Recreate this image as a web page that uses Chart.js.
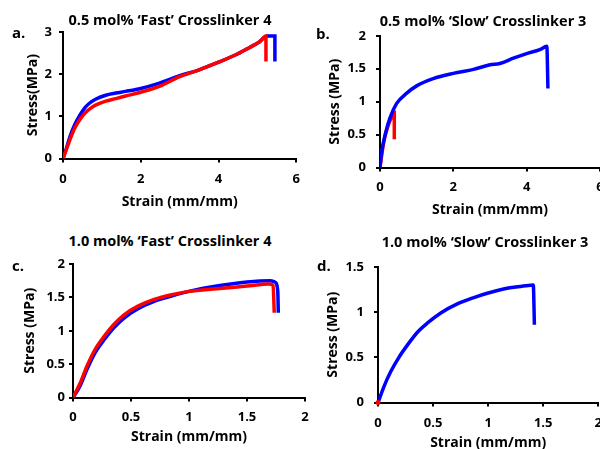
<!DOCTYPE html>
<html lang="en">
<head>
<meta charset="UTF-8">
<title>Stress-strain curves</title>
<script src="https://cdn.jsdelivr.net/npm/chart.js"></script>
<style>
  body { margin: 0; width: 600px; height: 449px; overflow: hidden; background: #fff; position: relative; font-family: 'Open Sans', sans-serif; font-weight: bold; }
  canvas { position: absolute; }
  .txt { position: absolute; white-space: nowrap; transform: translate(-50%, -50%); font-size: 14.5px; color: #000; z-index: 2; }
  .letra { position: absolute; font-size: 15px; color: #000; transform: translateY(-50%); z-index: 2; }
</style>
</head>
<body>

<div class="txt" style="left:170px; top:19px">0.5 mol% ‘Fast’ Crosslinker 4</div>
<div class="txt" style="left:483px; top:20px">0.5 mol% ‘Slow’ Crosslinker 3</div>
<div class="txt" style="left:170px; top:240px">1.0 mol% ‘Fast’ Crosslinker 4</div>
<div class="txt" style="left:485px; top:241px">1.0 mol% ‘Slow’ Crosslinker 3</div>

<div class="letra" style="left:12px; top:32px">a.</div>
<div class="letra" style="left:316px; top:33px">b.</div>
<div class="letra" style="left:12px; top:265px">c.</div>
<div class="letra" style="left:317px; top:265px">d.</div>

<canvas id="chart_a"></canvas>
<canvas id="chart_b"></canvas>
<canvas id="chart_c"></canvas>
<canvas id="chart_d"></canvas>

</body>
</html>

<script>

// a. 0.5 mol% fast crosslinker 4
var strain_a_azul = [0, 0.08, 0.18, 0.3, 0.43, 0.56, 0.68, 0.85, 1.1, 1.36, 1.61, 2.0, 2.46, 3.0, 3.5, 4.0, 4.5, 4.8, 5.05, 5.25, 5.45, 5.45]
var stress_a_azul = [0, 0.22, 0.52, 0.8, 1.02, 1.2, 1.31, 1.41, 1.5, 1.55, 1.59, 1.66, 1.78, 1.96, 2.1, 2.28, 2.48, 2.63, 2.76, 2.9, 2.9, 2.3]
var strain_a_verm = [0, 0.08, 0.18, 0.3, 0.43, 0.56, 0.68, 0.85, 1.1, 1.36, 1.61, 2.0, 2.46, 3.0, 3.5, 4.0, 4.5, 4.8, 5.05, 5.22, 5.22]
var stress_a_verm = [0, 0.2, 0.45, 0.72, 0.92, 1.07, 1.17, 1.27, 1.36, 1.42, 1.48, 1.57, 1.7, 1.94, 2.1, 2.28, 2.48, 2.63, 2.76, 2.9, 2.3]

// b. 0.5 mol% slow crosslinker 3
var strain_b_azul = [0, 0.02, 0.05, 0.14, 0.27, 0.45, 0.73, 1.0, 1.45, 2.0, 2.55, 3.0, 3.27, 3.64, 4.0, 4.36, 4.55, 4.58]
var stress_b_azul = [0, 0.12, 0.25, 0.5, 0.75, 0.97, 1.13, 1.24, 1.35, 1.43, 1.49, 1.56, 1.58, 1.66, 1.73, 1.79, 1.84, 1.2]
var strain_b_verm = [0, 0.1, 0.2, 0.3, 0.39, 0.39]
var stress_b_verm = [0, 0.38, 0.6, 0.75, 0.84, 0.43]

// c. 1.0 mol% fast crosslinker 4
var strain_c_azul = [0, 0.06, 0.12, 0.19, 0.27, 0.35, 0.44, 0.56, 0.7, 0.85, 1.0, 1.24, 1.5, 1.7, 1.74, 1.765, 1.77]
var stress_c_azul = [0, 0.17, 0.42, 0.67, 0.87, 1.04, 1.19, 1.33, 1.44, 1.52, 1.59, 1.67, 1.73, 1.75, 1.73, 1.6, 1.27]
var strain_c_verm = [0, 0.06, 0.12, 0.19, 0.27, 0.35, 0.44, 0.56, 0.7, 0.85, 1.0, 1.24, 1.5, 1.69, 1.725, 1.735]
var stress_c_verm = [0, 0.21, 0.47, 0.72, 0.92, 1.09, 1.24, 1.37, 1.47, 1.54, 1.59, 1.63, 1.67, 1.7, 1.68, 1.27]

// d. 1.0 mol% slow crosslinker 3
var strain_d_azul = [0, 0.055, 0.115, 0.19, 0.27, 0.36, 0.45, 0.57, 0.72, 0.87, 1.0, 1.16, 1.34, 1.41, 1.42]
var stress_d_azul = [0, 0.18, 0.34, 0.5, 0.64, 0.78, 0.88, 0.99, 1.09, 1.16, 1.21, 1.26, 1.29, 1.3, 0.86]
var strain_d_verm = [0]
var stress_d_verm = [0]

var AZUL = '#0000ff'
var VERMELHO = '#ff0000'

function pontos(xs, ys) {
  return xs.map(function (x, i) { return { x: x, y: ys[i] } })
}

function rotulo(v) {
  return String(Number(v.toFixed(2)))
}

function painel(id, caixa, eixoX, eixoY, series) {
  const fonte = { family: 'Open Sans', weight: 'bold', size: 14, lineHeight: 1.2 }
  const fonteTick = { family: 'Open Sans', weight: 'bold', size: 13, lineHeight: 1.2 }
  const pt = 14
  const pr = 12
  const esq = caixa.yTitleX - 12
  const yW = caixa.l - esq
  const xH = caixa.xTitleY + 8.4 - caixa.b
  const W = yW + (caixa.r - caixa.l) + pr
  const H = pt + (caixa.b - caixa.t) + xH

  const cv = document.getElementById(id)
  cv.width = W
  cv.height = H
  cv.style.left = esq + 'px'
  cv.style.top = (caixa.t - pt) + 'px'

  const grade = { drawOnChartArea: false, drawTicks: true, tickLength: 4, color: '#000', lineWidth: 2 }

  new Chart(cv, {
    type: 'line',
    data: {
      datasets: series.map(function (s) {
        return {
          data: s.data,
          borderColor: s.cor,
          backgroundColor: s.cor,
          borderWidth: 3.5,
          pointRadius: s.ponto || 0,
          pointBorderWidth: 0,
          cubicInterpolationMode: 'monotone',
          clip: s.ponto ? false : undefined,
          fill: false
        }
      })
    },
    options: {
      responsive: false,
      animation: false,
      layout: { padding: { top: pt, right: pr, left: 0, bottom: 0 } },
      plugins: { legend: { display: false }, tooltip: { enabled: false } },
      scales: {
        x: {
          type: 'linear',
          min: eixoX.min, max: eixoX.max,
          ticks: { stepSize: eixoX.passo, color: '#000', font: fonteTick, padding: caixa.xGap - 4 - 8, maxRotation: 0, callback: rotulo },
          grid: grade,
          border: { color: '#000', width: 2 },
          title: { display: true, text: 'Strain (mm/mm)', color: '#000', font: fonte, padding: { top: 0, bottom: 0 } },
          afterFit: function (s) { s.height = xH }
        },
        y: {
          type: 'linear',
          min: eixoY.min, max: eixoY.max,
          ticks: { stepSize: eixoY.passo, color: '#000', font: fonteTick, padding: caixa.yGap - 4, callback: rotulo },
          grid: grade,
          border: { color: '#000', width: 2 },
          title: { display: true, text: eixoY.titulo, color: '#000', font: fonte, padding: { top: 3.6, bottom: 0 } },
          afterFit: function (s) { s.width = yW }
        }
      }
    }
  })
}

painel('chart_a',
  { l: 63, r: 297, t: 31, b: 159, yTitleX: 33, xTitleY: 202, yGap: 11, xGap: 21 },
  { min: 0, max: 6, passo: 2 },
  { min: 0, max: 3, passo: 1, titulo: 'Stress(MPa)' },
  [
    { data: pontos(strain_a_verm, stress_a_verm), cor: VERMELHO },
    { data: pontos(strain_a_azul, stress_a_azul), cor: AZUL }
  ])

painel('chart_b',
  { l: 380, r: 600, t: 32, b: 168, yTitleX: 335, xTitleY: 210, yGap: 14, xGap: 20 },
  { min: 0, max: 6, passo: 2 },
  { min: 0, max: 2, passo: 0.5, titulo: 'Stress (MPa)' },
  [
    { data: pontos(strain_b_azul, stress_b_azul), cor: AZUL },
    { data: pontos(strain_b_verm, stress_b_verm), cor: VERMELHO }
  ])

painel('chart_c',
  { l: 73, r: 305, t: 264, b: 398, yTitleX: 30, xTitleY: 437, yGap: 8, xGap: 20 },
  { min: 0, max: 2, passo: 0.5 },
  { min: 0, max: 2, passo: 0.5, titulo: 'Stress (MPa)' },
  [
    { data: pontos(strain_c_verm, stress_c_verm), cor: VERMELHO },
    { data: pontos(strain_c_azul, stress_c_azul), cor: AZUL }
  ])

painel('chart_d',
  { l: 378, r: 599, t: 263, b: 403, yTitleX: 333, xTitleY: 443, yGap: 14, xGap: 21 },
  { min: 0, max: 2, passo: 0.5 },
  { min: 0, max: 1.5, passo: 0.5, titulo: 'Stress (MPa)' },
  [
    { data: pontos(strain_d_verm, stress_d_verm), cor: VERMELHO, ponto: 2.5 },
    { data: pontos(strain_d_azul, stress_d_azul), cor: AZUL }
  ])

</script>
